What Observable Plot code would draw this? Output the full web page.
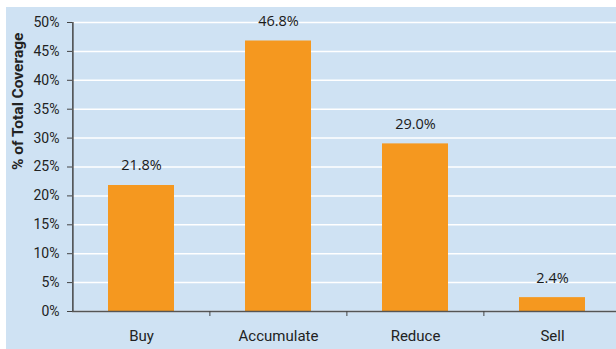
<!DOCTYPE html>
<html>
<head>
<meta charset="utf-8">
<script src="https://cdn.jsdelivr.net/npm/d3@7"></script>
<script src="https://cdn.jsdelivr.net/npm/@observablehq/plot@0.6"></script>
<style>
  html, body { margin: 0; padding: 0; background: #ffffff; }
  #wrap { position: relative; width: 616px; height: 349px; background: #ffffff; overflow: hidden; }
  #chart { position: absolute; left: 6px; top: 7px; width: 610px; height: 342px; background: #cfe2f3; }
  #chart svg { display: block; }
</style>
</head>
<body>
<div id="wrap"><div id="chart"></div></div>
<script>
const categories = ["Buy", "Accumulate", "Reduce", "Sell"];
const shares = [21.8, 46.8, 29.0, 2.4];
const yTicks = [0, 5, 10, 15, 20, 25, 30, 35, 40, 45, 50];
const yTitle = "% of Total Coverage";

const data = categories.map((c, i) => ({category: c, value: shares[i]}));

const W = 610, H = 342;
const left = 66, rightEnd = 615;
const step = (rightEnd - left) / categories.length;

const chart = Plot.plot({
  width: W,
  height: H,
  marginLeft: left,
  marginTop: 15,
  marginBottom: 38,
  marginRight: 0,
  style: {background: "transparent", fontFamily: "Roboto", fontSize: "14px", color: "#222"},
  x: {type: "band", domain: categories, range: [left, rightEnd], paddingInner: 0.52, paddingOuter: 0.26, align: 0.5},
  y: {domain: [0, 50]},
  marks: [
    Plot.gridY(yTicks, {stroke: "#ffffff", strokeOpacity: 1, strokeWidth: 1.5}),
    Plot.barY(data, {x: "category", y: "value", fill: "#f5981f"}),
    Plot.ruleY([0], {stroke: "#555", strokeWidth: 1.5}),
    Plot.ruleX([categories[0]], {x: d => d, dx: -step / 2, y1: 0, y2: 50, stroke: "#444", strokeWidth: 1.5}),
    Plot.ruleX(categories.slice(1), {x: d => d, dx: -step / 2, y1: 0, y2: 0, insetBottom: -5, stroke: "#444", strokeWidth: 1}),
    Plot.axisY(yTicks, {tickFormat: d => d + "%", tickSize: 5, tickPadding: 8, label: null, stroke: "#444", fontSize: 14, fill: "#222"}),
    Plot.axisX({tickSize: 0, tickPadding: 19, label: null, fontSize: 15, fill: "#222"}),
    Plot.text(data, {x: "category", y: "value", text: d => d.value.toFixed(1) + "%", dy: -15, lineAnchor: "bottom", fontFamily: "Open Sans", fontSize: 14.5, fill: "#1a1a1a"}),
    Plot.text([yTitle], {frameAnchor: "left", rotate: -90, dx: -54, dy: 3, fontWeight: "bold", fontSize: 15.5, fill: "#222"})
  ]
});
document.getElementById("chart").appendChild(chart);
</script>
</body>
</html>
